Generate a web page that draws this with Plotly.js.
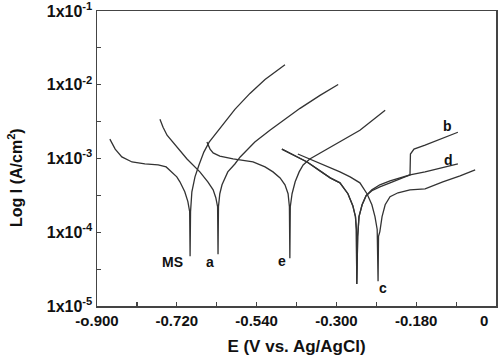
<!DOCTYPE html>
<html>
<head>
<meta charset="utf-8">
<script src="https://cdn.plot.ly/plotly-3.0.1.min.js"></script>
<style>
html, body { margin: 0; padding: 0; background: #fff; }
#chart { width: 500px; height: 364px; }
</style>
</head>
<body>
<div id="chart"></div>
<script>
// Potential E (V vs. Ag/AgCl) and current density I (A/cm^2) for each sample
const E_MS = [-0.871,-0.859,-0.844,-0.821,-0.792,-0.762,-0.744,-0.731,-0.720,-0.713,-0.702,-0.695,-0.691,-0.690,-0.689,-0.686,-0.679,-0.670,-0.659,-0.647,-0.623,-0.589,-0.555,-0.521,-0.476];
const I_MS = [1.83e-3,1.34e-3,1.05e-3,8.97e-4,8.43e-4,8.17e-4,7.68e-4,6.58e-4,5.63e-4,4.83e-4,3.54e-4,2.60e-4,1.90e-4,4.71e-5,1.90e-4,3.54e-4,5.63e-4,8.17e-4,1.22e-3,1.67e-3,2.58e-3,4.64e-3,7.63e-3,1.18e-2,1.87e-2];

const E_a = [-0.758,-0.751,-0.742,-0.724,-0.697,-0.668,-0.650,-0.638,-0.632,-0.628,-0.627,-0.626,-0.623,-0.618,-0.605,-0.589,-0.577,-0.544,-0.510,-0.476,-0.442,-0.397,-0.356];
const I_a = [3.40e-3,2.66e-3,2.07e-3,1.52e-3,9.85e-4,6.58e-4,4.83e-4,3.76e-4,2.94e-4,2.22e-4,5.02e-5,2.22e-4,3.33e-4,4.40e-4,6.58e-4,8.43e-4,1.05e-3,1.67e-3,2.42e-3,3.40e-3,4.79e-3,7.17e-3,1.01e-2];

const E_e = [-0.652,-0.645,-0.638,-0.623,-0.593,-0.548,-0.521,-0.503,-0.487,-0.476,-0.469,-0.466,-0.465,-0.464,-0.460,-0.453,-0.444,-0.435,-0.420,-0.404,-0.374,-0.352,-0.307,-0.250];
const I_e = [1.67e-3,1.34e-3,1.19e-3,1.08e-3,9.85e-4,8.97e-4,7.68e-4,6.58e-4,5.46e-4,4.40e-4,3.33e-4,2.22e-4,4.43e-5,2.22e-4,3.33e-4,4.83e-4,6.58e-4,8.17e-4,9.85e-4,1.12e-3,1.39e-3,1.67e-3,2.42e-3,4.50e-3];

const E_b = [-0.483,-0.453,-0.426,-0.397,-0.374,-0.352,-0.334,-0.323,-0.317,-0.315,-0.314,-0.312,-0.309,-0.302,-0.293,-0.280,-0.262,-0.239,-0.217,-0.194,-0.193,-0.185,-0.160,-0.126,-0.086];
const I_b = [1.34e-3,1.08e-3,8.97e-4,6.79e-4,5.46e-4,4.68e-4,3.33e-4,2.29e-4,1.63e-4,1.09e-4,1.98e-5,8.77e-5,1.63e-4,2.36e-4,3.13e-4,3.76e-4,4.40e-4,4.98e-4,5.46e-4,5.99e-4,1.15e-3,1.34e-3,1.52e-3,1.83e-3,2.27e-3];

const E_d = [-0.483,-0.453,-0.426,-0.397,-0.374,-0.352,-0.334,-0.323,-0.317,-0.315,-0.314,-0.312,-0.309,-0.302,-0.293,-0.280,-0.262,-0.239,-0.217,-0.194,-0.160,-0.126,-0.086];
const I_d = [1.34e-3,1.08e-3,8.97e-4,6.79e-4,5.46e-4,4.68e-4,3.33e-4,2.29e-4,1.63e-4,1.09e-4,1.98e-5,8.77e-5,1.63e-4,2.36e-4,3.13e-4,3.65e-4,4.13e-4,4.68e-4,5.30e-4,5.99e-4,6.58e-4,7.45e-4,8.43e-4];

const E_c = [-0.447,-0.420,-0.397,-0.374,-0.352,-0.329,-0.307,-0.291,-0.280,-0.273,-0.268,-0.266,-0.265,-0.262,-0.257,-0.250,-0.239,-0.221,-0.194,-0.160,-0.120,-0.081,-0.047];
const I_c = [1.15e-3,9.85e-4,8.70e-4,7.45e-4,6.58e-4,5.63e-4,4.68e-4,3.33e-4,2.36e-4,1.63e-4,1.09e-4,2.17e-5,8.77e-5,1.02e-4,1.63e-4,2.36e-4,3.03e-4,3.43e-4,3.76e-4,3.88e-4,4.83e-4,5.81e-4,7.00e-4];

// Curve labels and where they sit (E, I)
const curveNames = ['MS','a','e','c','b','d'];
const labelE = [-0.729,-0.645,-0.483,-0.255,-0.110,-0.108];
const labelI = [3.92e-5,3.92e-5,4.04e-5,1.75e-5,2.74e-3,9.55e-4];

// Axis ticks
const xTickVals = [-0.9,-0.72,-0.54,-0.36,-0.18];
const xTickText = ['-o.900','-0.720','-0.540','-0.300','-0.180'];
const xMinorVals = [-0.81,-0.63,-0.45,-0.27,-0.09];
const xEndLabel = '0';
const xEndLabelE = -0.027;
const yTickVals = [1e-5,1e-4,1e-3,1e-2,1e-1];
const yTickText = ['1x10<sup>-5</sup>','1x10<sup>-4</sup>','1x10<sup>-3</sup>','1x10<sup>-2</sup>','1x10<sup>-1</sup>'];
const yMinorVals = [3.162e-5,3.162e-4,3.162e-3,3.162e-2];

const series = [[E_MS,I_MS],[E_a,I_a],[E_e,I_e],[E_b,I_b],[E_d,I_d],[E_c,I_c]];
const lineColor = '#333333';
const traces = series.map(s => ({
  x: s[0], y: s[1], type: 'scatter', mode: 'lines',
  line: {color: lineColor, width: 1.3},
  hoverinfo: 'skip', showlegend: false
}));

const font = 'Arial, "Liberation Sans", sans-serif';
const annotations = curveNames.map((n, i) => ({
  x: labelE[i], y: Math.log10(labelI[i]), xref: 'x', yref: 'y',
  text: n, showarrow: false,
  font: {family: font, size: 14, color: '#111', weight: 'bold'}
}));
annotations.push({
  x: xEndLabelE, y: 0, xref: 'x', yref: 'paper', yanchor: 'top', yshift: -4,
  text: xEndLabel, showarrow: false,
  font: {family: font, size: 15, color: '#111', weight: 'bold'}
});
annotations.push({
  x: 0, y: 0.434, xref: 'paper', yref: 'paper', xanchor: 'center', yanchor: 'middle',
  xshift: -82, textangle: -90,
  text: 'Log I (A/cm<sup>2</sup>)', showarrow: false,
  font: {family: font, size: 16, color: '#111', weight: 'bold'}
});

const tickStyle = {ticks: 'inside', ticklen: 4, tickwidth: 1.2, tickcolor: '#444'};

const layout = {
  width: 500, height: 364,
  margin: {l: 97, r: 4, t: 11, b: 58},
  paper_bgcolor: '#fff', plot_bgcolor: '#fff',
  showlegend: false,
  xaxis: Object.assign({
    range: [-0.9, 0], tickmode: 'array', tickvals: xTickVals, ticktext: xTickText,
    minor: Object.assign({tickmode: 'array', tickvals: xMinorVals, showgrid: false}, tickStyle),
    showline: true, linecolor: '#444', linewidth: 1.5, mirror: true,
    showgrid: false, zeroline: false, ticklabeloverflow: 'allow',
    tickfont: {family: font, size: 15, color: '#111', weight: 'bold'},
    title: {text: 'E (V vs. Ag/AgCl)', standoff: 12,
            font: {family: font, size: 17, color: '#111', weight: 'bold'}}
  }, tickStyle),
  yaxis: Object.assign({
    type: 'log', range: [-5.0002, -0.9998], tickmode: 'array', tickvals: yTickVals, ticktext: yTickText,
    minor: Object.assign({tickmode: 'array', tickvals: yMinorVals, showgrid: false}, tickStyle),
    showline: true, linecolor: '#444', linewidth: 1.5, mirror: true,
    showgrid: false, zeroline: false, ticklabeloverflow: 'allow',
    tickfont: {family: font, size: 16, color: '#111', weight: 'bold'}
  }, tickStyle),
  annotations: annotations
};

Plotly.newPlot('chart', traces, layout, {displayModeBar: false, staticPlot: true});
</script>
</body>
</html>
